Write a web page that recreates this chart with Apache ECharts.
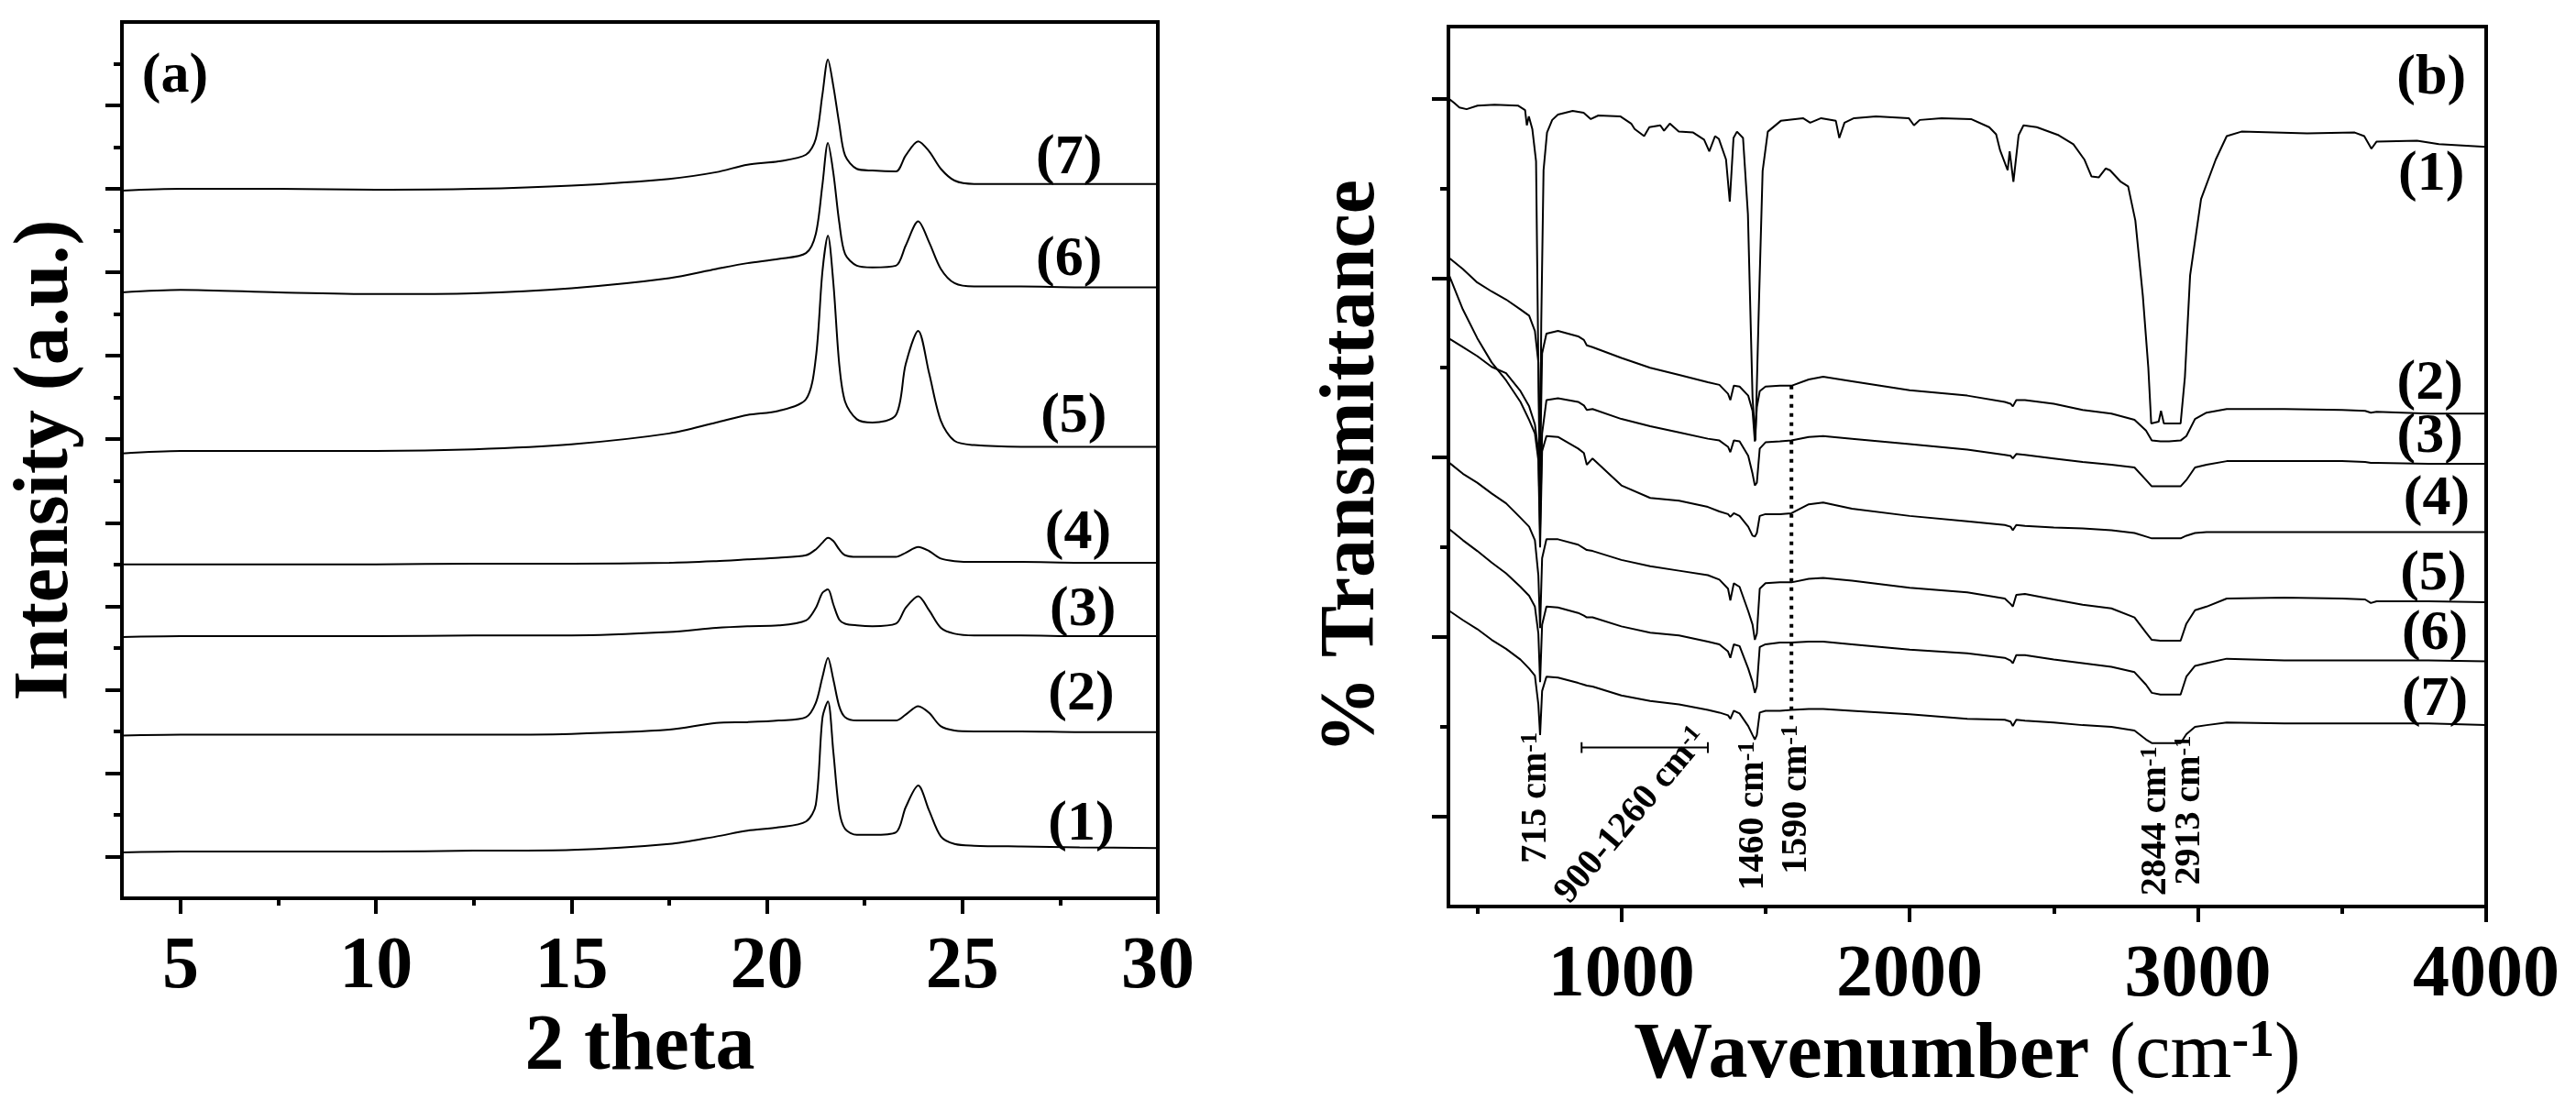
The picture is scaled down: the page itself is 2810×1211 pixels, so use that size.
<!DOCTYPE html>
<html>
<head>
<meta charset="utf-8">
<script src="https://cdn.jsdelivr.net/npm/echarts@6/dist/echarts.min.js"></script>
<style>
  html, body { margin: 0; padding: 0; background: #fff; }
  #chart { width: 2810px; height: 1211px; }
</style>
</head>
<body>
<div id="chart"></div>
<script>
// ---------- (a) XRD patterns ----------
const thetaGrid = [3.5, 5, 7.5, 10, 12.5, 15, 17.5, 18.7, 19.5, 20.3, 21.0, 21.25, 21.42, 21.56, 21.7, 21.85, 22.0,
  22.3, 22.7, 23.3, 23.55, 23.87, 24.15, 24.45, 24.8, 25.3, 26.5, 28, 30];
const xrd1 = [0.55, 0.56, 0.56, 0.56, 0.57, 0.58, 0.65, 0.74, 0.81, 0.85, 0.92, 1.12, 2.16, 2.36, 1.75, 1.05, 0.83,
  0.76, 0.76, 0.79, 1.09, 1.35, 1.05, 0.74, 0.65, 0.63, 0.62, 0.61, 0.60];
const xrd2 = [1.95, 1.96, 1.96, 1.96, 1.96, 1.97, 2.02, 2.10, 2.11, 2.13, 2.17, 2.34, 2.65, 2.88, 2.62, 2.30, 2.17,
  2.13, 2.13, 2.13, 2.20, 2.30, 2.22, 2.06, 2.01, 2.00, 2.00, 1.99, 1.99];
const xrd3 = [3.13, 3.14, 3.14, 3.14, 3.15, 3.15, 3.19, 3.24, 3.26, 3.27, 3.33, 3.48, 3.66, 3.70, 3.52, 3.34, 3.29,
  3.27, 3.26, 3.29, 3.48, 3.62, 3.45, 3.24, 3.17, 3.15, 3.15, 3.14, 3.14];
const xrd4 = [4.00, 4.00, 4.00, 4.00, 4.01, 4.01, 4.02, 4.04, 4.06, 4.08, 4.11, 4.18, 4.26, 4.32, 4.28, 4.18, 4.11,
  4.09, 4.09, 4.09, 4.14, 4.21, 4.16, 4.07, 4.04, 4.03, 4.03, 4.02, 4.02];
const xrd5 = [5.33, 5.36, 5.36, 5.36, 5.38, 5.44, 5.57, 5.70, 5.79, 5.84, 5.98, 6.47, 7.51, 7.94, 7.37, 6.40, 5.95,
  5.74, 5.70, 5.79, 6.40, 6.80, 6.29, 5.72, 5.48, 5.43, 5.41, 5.41, 5.41];
const xrd6 = [7.26, 7.29, 7.26, 7.24, 7.25, 7.31, 7.43, 7.54, 7.61, 7.66, 7.73, 7.96, 8.55, 9.05, 8.69, 8.10, 7.72,
  7.58, 7.56, 7.58, 7.82, 8.11, 7.86, 7.54, 7.37, 7.33, 7.33, 7.32, 7.32];
const xrd7 = [8.48, 8.50, 8.50, 8.49, 8.50, 8.54, 8.62, 8.70, 8.79, 8.83, 8.91, 9.10, 9.63, 10.05, 9.73, 9.28, 8.90,
  8.74, 8.72, 8.71, 8.90, 9.07, 8.95, 8.74, 8.60, 8.56, 8.56, 8.56, 8.56];
const xrdSeries = [xrd1, xrd2, xrd3, xrd4, xrd5, xrd6, xrd7];

const xrdLabelTheta = [4.86, 28.04, 28.04, 28.08, 27.96, 27.85, 27.73, 27.73];
const xrdLabelY = [9.84, 0.88, 2.44, 3.45, 4.37, 5.77, 7.65, 8.86];
const xrdLabelText = ['(a)', '(1)', '(2)', '(3)', '(4)', '(5)', '(6)', '(7)'];

const thetaTicks = [5, 10, 15, 20, 25, 30];
const thetaMinorTicks = [7.5, 12.5, 17.5, 22.5, 27.5];
const intensityLongTicks = [0.5, 1.5, 2.5, 3.5, 4.5, 5.5, 6.5, 7.5, 8.5, 9.5];
const intensityShortTicks = [1, 2, 3, 4, 5, 6, 7, 8, 9, 10];

// ---------- (b) FTIR spectra ----------
const wnTrace1 = [400, 420, 438, 463, 501, 560, 641, 666, 672, 679, 691, 704, 712, 717, 722, 730, 742, 760, 780,
  831, 869, 894, 920, 996, 1034, 1046, 1079, 1097, 1135, 1148, 1168, 1199, 1249, 1287, 1305, 1325, 1338, 1363,
  1376, 1389, 1401, 1422, 1439, 1455, 1465, 1477, 1490, 1508, 1553, 1630, 1655, 1693, 1744, 1756, 1774, 1807,
  1883, 1997, 2015, 2035, 2111, 2213, 2276, 2300, 2314, 2340, 2347, 2360, 2378, 2395, 2441, 2517, 2568, 2606,
  2631, 2656, 2680, 2695, 2733, 2758, 2783, 2809, 2828, 2838, 2864, 2872, 2882, 2940, 2955, 2973, 3011, 3062,
  3100, 3151, 3379, 3544, 3577, 3602, 3620, 3760, 3836, 4000];
const ftir1 = [9.00, 8.95, 8.90, 8.88, 8.92, 8.93, 8.92, 8.87, 8.70, 8.80, 8.66, 8.30, 6.00, 4.60, 6.50, 8.20, 8.62,
  8.76, 8.82, 8.86, 8.84, 8.77, 8.81, 8.80, 8.72, 8.66, 8.58, 8.68, 8.70, 8.64, 8.72, 8.63, 8.62, 8.54, 8.41,
  8.58, 8.55, 8.32, 7.85, 8.56, 8.63, 8.56, 7.71, 5.67, 5.19, 6.69, 8.19, 8.63, 8.75, 8.78, 8.73, 8.78, 8.75,
  8.56, 8.73, 8.78, 8.80, 8.78, 8.70, 8.76, 8.78, 8.77, 8.68, 8.60, 8.42, 8.20, 8.41, 8.07, 8.59, 8.70, 8.68,
  8.59, 8.49, 8.32, 8.13, 8.12, 8.22, 8.20, 8.07, 8.02, 7.64, 6.80, 6.00, 5.38, 5.40, 5.52, 5.38, 5.38, 5.90,
  7.03, 7.88, 8.32, 8.58, 8.63, 8.61, 8.62, 8.58, 8.44, 8.52, 8.53, 8.49, 8.46];

const wnGrid = [400, 450, 500, 550, 600, 650, 680, 700, 712, 718, 725, 740, 780, 850, 870, 880, 900,
  1000, 1100, 1200, 1300, 1340, 1370, 1378, 1390, 1410, 1440, 1455, 1463, 1470, 1480, 1500, 1550, 1590, 1650, 1700,
  1800, 2000, 2200, 2330, 2350, 2358, 2370, 2400, 2500, 2600, 2700, 2780, 2820, 2840, 2870, 2900, 2940, 2960,
  2990, 3030, 3100, 3300, 3500, 3580, 3600, 3620, 3800, 4000];
const ftir2 = [7.23, 7.10, 6.95, 6.85, 6.76, 6.65, 6.58, 6.41, 6.06, 4.90, 6.16, 6.38, 6.41, 6.35, 6.31, 6.25, 6.23,
  6.11, 6.00, 5.92, 5.84, 5.81, 5.71, 5.64, 5.80, 5.79, 5.69, 5.52, 5.18, 5.56, 5.74, 5.79, 5.80, 5.80, 5.87, 5.90,
  5.85, 5.75, 5.69, 5.62, 5.60, 5.57, 5.64, 5.64, 5.60, 5.53, 5.49, 5.42, 5.30, 5.19, 5.18, 5.18, 5.19, 5.24,
  5.43, 5.50, 5.54, 5.54, 5.53, 5.52, 5.50, 5.51, 5.49, 5.49];
const ftir3 = [6.33, 6.23, 6.13, 6.01, 5.94, 5.74, 5.57, 5.37, 5.07, 4.20, 5.27, 5.64, 5.66, 5.62, 5.58, 5.53, 5.54,
  5.43, 5.35, 5.28, 5.21, 5.19, 5.12, 5.06, 5.19, 5.18, 5.02, 4.82, 4.69, 4.72, 5.10, 5.17, 5.18, 5.19, 5.23, 5.24,
  5.21, 5.15, 5.09, 5.03, 5.02, 4.99, 5.04, 5.03, 4.99, 4.95, 4.92, 4.89, 4.75, 4.68, 4.68, 4.68, 4.68, 4.75,
  4.89, 4.92, 4.96, 4.96, 4.96, 4.95, 4.94, 4.94, 4.93, 4.93];
const ftir4 = [7.05, 6.65, 6.33, 6.06, 5.86, 5.62, 5.42, 5.27, 4.97, 4.00, 5.07, 5.24, 5.23, 5.10, 5.05, 4.92, 4.99,
  4.69, 4.55, 4.52, 4.45, 4.40, 4.37, 4.34, 4.38, 4.35, 4.23, 4.13, 4.12, 4.16, 4.35, 4.37, 4.37, 4.38, 4.48, 4.50,
  4.43, 4.35, 4.29, 4.25, 4.23, 4.19, 4.25, 4.24, 4.22, 4.21, 4.19, 4.16, 4.12, 4.10, 4.10, 4.10, 4.10, 4.13,
  4.16, 4.17, 4.17, 4.17, 4.17, 4.17, 4.17, 4.17, 4.17, 4.17];
const ftir5 = [4.95, 4.82, 4.72, 4.60, 4.49, 4.33, 4.23, 4.08, 3.69, 3.10, 3.88, 4.09, 4.09, 4.03, 3.99, 3.97, 3.96,
  3.86, 3.79, 3.74, 3.69, 3.64, 3.54, 3.41, 3.60, 3.56, 3.29, 3.14, 2.97, 3.04, 3.54, 3.60, 3.61, 3.61, 3.65, 3.66,
  3.63, 3.55, 3.50, 3.43, 3.37, 3.34, 3.47, 3.48, 3.42, 3.36, 3.32, 3.22, 3.05, 2.97, 2.96, 2.96, 2.96, 3.15,
  3.30, 3.34, 3.43, 3.44, 3.43, 3.42, 3.38, 3.40, 3.40, 3.39];
const ftir6 = [4.21, 4.08, 3.96, 3.83, 3.71, 3.56, 3.46, 3.34, 3.04, 2.50, 3.14, 3.34, 3.33, 3.27, 3.24, 3.22, 3.22,
  3.12, 3.05, 3.02, 2.95, 2.92, 2.84, 2.77, 2.92, 2.90, 2.65, 2.50, 2.38, 2.45, 2.89, 2.92, 2.94, 2.94, 2.95, 2.95,
  2.92, 2.86, 2.82, 2.77, 2.74, 2.71, 2.80, 2.80, 2.75, 2.71, 2.67, 2.61, 2.47, 2.38, 2.36, 2.36, 2.36, 2.56,
  2.68, 2.71, 2.76, 2.74, 2.74, 2.74, 2.74, 2.74, 2.74, 2.73];
const ftir7 = [3.30, 3.19, 3.09, 2.97, 2.87, 2.75, 2.65, 2.57, 2.25, 1.91, 2.40, 2.56, 2.55, 2.49, 2.47, 2.46, 2.45,
  2.35, 2.29, 2.25, 2.19, 2.16, 2.13, 2.09, 2.18, 2.15, 2.01, 1.91, 1.86, 1.91, 2.16, 2.18, 2.18, 2.19, 2.20, 2.20,
  2.18, 2.14, 2.09, 2.08, 2.06, 2.01, 2.08, 2.07, 2.05, 2.02, 2.00, 1.96, 1.86, 1.82, 1.82, 1.82, 1.82, 1.92,
  2.00, 2.02, 2.05, 2.04, 2.04, 2.04, 2.04, 2.04, 2.04, 2.02];
const ftirGridSeries = [ftir2, ftir3, ftir4, ftir5, ftir6, ftir7];

const ftirLabelWn = [3810, 3810, 3805, 3805, 3828, 3817, 3822, 3822];
const ftirLabelY = [9.22, 8.15, 5.82, 5.23, 4.53, 3.70, 3.03, 2.30];
const ftirLabelText = ['(b)', '(1)', '(2)', '(3)', '(4)', '(5)', '(6)', '(7)'];

// band annotations (rotated text)
const bandWn = [705, 1036, 1459, 1609, 2855, 2973];
const bandY = [1.21, 1.01, 1.01, 1.19, 0.95, 1.07];
const bandText = ['715 cm', '900-1260 cm', '1460 cm', '1590 cm', '2844 cm', '2913 cm'];
const bandRotate = [90, 50, 90, 90, 90, 90];

// 900-1260 range bracket and 1590 dotted marker
const bracketWn = [862, 862, 862, 1300, 1300, 1300];
const bracketY = [1.83, 1.71, 1.77, 1.77, 1.83, 1.71];
const markerWn = [1590, 1590];
const markerY = [5.80, 2.03];

const wnTicks = [1000, 2000, 3000, 4000];
const wnMinorTicks = [500, 1500, 2500, 3500];
const transLongTicks = [1, 3, 5, 7, 9];
const transShortTicks = [2, 4, 6, 8];

// ---------- chart ----------
const FONT = '"Liberation Serif", "DejaVu Serif", serif';
const zip = (xs, ys) => xs.map((x, i) => [x, ys[i]]);

const traceStyle = (xi, yi, data, smooth) => ({
  type: 'line', xAxisIndex: xi, yAxisIndex: yi, data: data,
  showSymbol: false, symbol: 'none', silent: true, smooth: smooth,
  lineStyle: { color: '#000', width: 2 }
});

function xAxisPair(grid, min, max, major, minor, name, nameGap) {
  return [{
    gridIndex: grid, type: 'value', position: 'bottom', min: min, max: max,
    axisLine: { show: true, onZero: false, lineStyle: { color: '#000', width: 4 } },
    axisTick: { show: true, inside: false, length: 17, customValues: major, lineStyle: { color: '#000', width: 4 } },
    axisLabel: {
      show: true, customValues: major, margin: 36, formatter: v => String(v),
      color: '#000', fontFamily: FONT, fontWeight: 'bold', fontSize: 80
    },
    splitLine: { show: false },
    name: name, nameLocation: 'middle', nameGap: nameGap,
    nameTextStyle: {
      color: '#000', fontFamily: FONT, fontWeight: 'bold', fontSize: 86,
      rich: {
        b: { fontFamily: FONT, fontWeight: 'bold', fontSize: 86, color: '#000', verticalAlign: 'bottom' },
        r: { fontFamily: FONT, fontWeight: 'normal', fontSize: 86, color: '#000', verticalAlign: 'bottom' },
        s: { fontFamily: FONT, fontWeight: 'bold', fontSize: 56, color: '#000', verticalAlign: 'top' }
      }
    }
  }, {
    gridIndex: grid, type: 'value', position: 'bottom', min: min, max: max,
    axisLine: { show: false, onZero: false },
    axisTick: { show: true, inside: false, length: 8, customValues: minor, lineStyle: { color: '#000', width: 4 } },
    axisLabel: { show: false },
    splitLine: { show: false }
  }];
}

function yAxisPair(grid, min, max, longT, shortT, name, nameGap) {
  return [{
    gridIndex: grid, type: 'value', position: 'left', min: min, max: max,
    axisLine: { show: true, onZero: false, lineStyle: { color: '#000', width: 4 } },
    axisTick: { show: true, inside: false, length: 18, customValues: longT, lineStyle: { color: '#000', width: 4 } },
    axisLabel: { show: false },
    splitLine: { show: false },
    name: name, nameLocation: 'middle', nameRotate: 90, nameGap: nameGap,
    nameTextStyle: { color: '#000', fontFamily: FONT, fontWeight: 'bold', fontSize: 84 }
  }, {
    gridIndex: grid, type: 'value', position: 'left', min: min, max: max,
    axisLine: { show: false, onZero: false },
    axisTick: { show: true, inside: false, length: 9, customValues: shortT, lineStyle: { color: '#000', width: 4 } },
    axisLabel: { show: false },
    splitLine: { show: false }
  }];
}

// text-only scatter series; full opacity and no border so labels stay pure black
const labelSeries = (xi, yi, xs, ys, texts) => ({
  type: 'scatter', xAxisIndex: xi, yAxisIndex: yi, symbolSize: 0, silent: true,
  itemStyle: { color: '#000', opacity: 1 },
  data: xs.map((x, i) => [x, ys[i], texts[i]]),
  label: {
    show: true, position: 'inside', formatter: p => p.data[2], opacity: 1,
    color: '#000', textBorderWidth: 0, fontFamily: FONT, fontWeight: 'bold', fontSize: 62
  }
});

const series = [];
xrdSeries.forEach(ys => series.push(traceStyle(0, 0, zip(thetaGrid, ys), 0.3)));
series.push(labelSeries(0, 0, xrdLabelTheta, xrdLabelY, xrdLabelText));

series.push(traceStyle(2, 2, zip(wnTrace1, ftir1), false));
ftirGridSeries.forEach(ys => series.push(traceStyle(2, 2, zip(wnGrid, ys), false)));
series.push(labelSeries(2, 2, ftirLabelWn, ftirLabelY, ftirLabelText));

series.push({
  type: 'line', xAxisIndex: 2, yAxisIndex: 2, symbol: 'none', silent: true,
  data: zip(bracketWn, bracketY), lineStyle: { color: '#000', width: 2 }
});
series.push({
  type: 'line', xAxisIndex: 2, yAxisIndex: 2, symbol: 'none', silent: true,
  data: zip(markerWn, markerY), lineStyle: { color: '#000', width: 4, type: [4, 6] }
});
series.push({
  type: 'scatter', xAxisIndex: 2, yAxisIndex: 2, symbolSize: 0, silent: true,
  itemStyle: { color: '#000', opacity: 1 },
  data: bandWn.map((w, i) => ({
    value: [w, bandY[i]],
    label: { rotate: bandRotate[i], formatter: '{n|' + bandText[i] + '}{s|-1}' }
  })),
  label: {
    show: true, position: 'inside', color: '#000', textBorderWidth: 0, opacity: 1,
    rich: {
      n: { fontFamily: FONT, fontWeight: 'bold', fontSize: 40, color: '#000', textBorderWidth: 0, verticalAlign: 'bottom' },
      s: { fontFamily: FONT, fontWeight: 'bold', fontSize: 26, color: '#000', textBorderWidth: 0, verticalAlign: 'top' }
    }
  }
});

const chart = echarts.init(document.getElementById('chart'));
chart.setOption({
  animation: false,
  backgroundColor: '#fff',
  grid: [
    { left: 133, top: 24, width: 1130, height: 956, show: true, borderColor: '#000', borderWidth: 4, backgroundColor: 'transparent' },
    { left: 1580, top: 29, width: 1132, height: 960, show: true, borderColor: '#000', borderWidth: 4, backgroundColor: 'transparent' }
  ],
  xAxis: [
    ...xAxisPair(0, 3.5, 30, thetaTicks, thetaMinorTicks, '2 theta', 76),
    ...xAxisPair(1, 400, 4000, wnTicks, wnMinorTicks, '{b|Wavenumber }{r|(cm}{s|-1}{r|)}', 70)
  ],
  yAxis: [
    ...yAxisPair(0, 0, 10.5, intensityLongTicks, intensityShortTicks, 'Intensity (a.u.)', 40),
    ...yAxisPair(1, 0, 9.8, transLongTicks, transShortTicks, '% Transmittance', 62)
  ],
  series: series
});
</script>
</body>
</html>
